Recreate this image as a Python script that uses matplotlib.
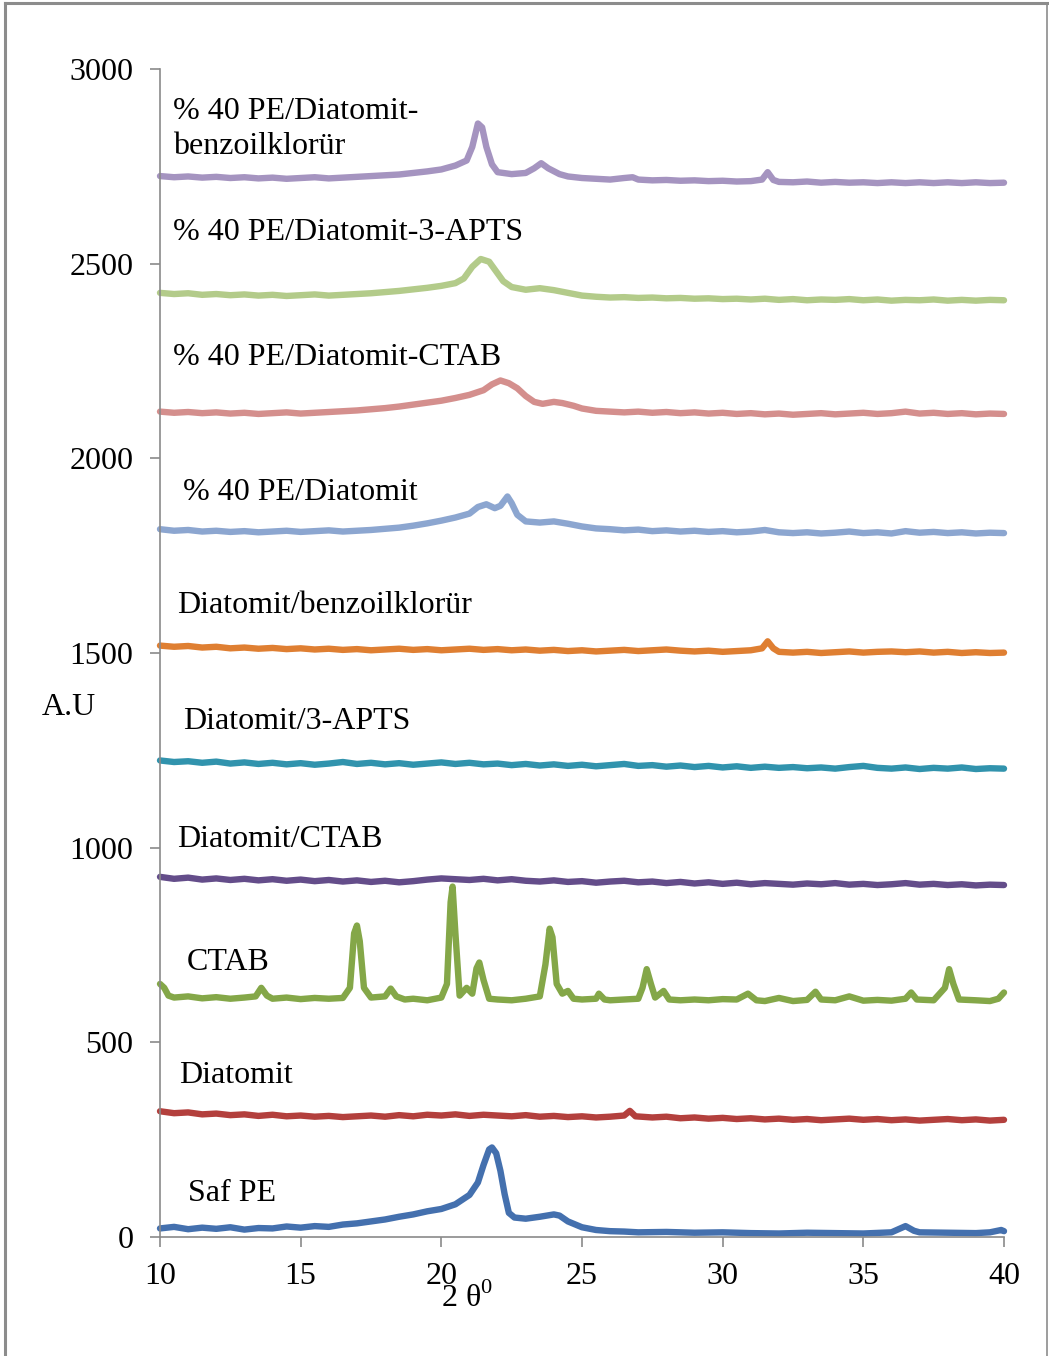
import matplotlib
matplotlib.use("Agg")
import matplotlib.pyplot as plt
from matplotlib.lines import Line2D

plt.rcParams['font.family'] = ['Liberation Serif', 'DejaVu Serif']
plt.rcParams['mathtext.fontset'] = 'custom'
plt.rcParams['mathtext.rm'] = 'Liberation Serif'

# ---------------- data ----------------
G = [10, 10.5, 11, 11.5, 12, 12.5, 13, 13.5, 14, 14.5, 15, 15.5, 16, 16.5, 17, 17.5,
     18, 18.5, 19, 19.5, 20, 20.5, 21, 21.5, 22, 22.5, 23, 23.5, 24, 24.5, 25, 25.5,
     26, 26.5, 27, 27.5, 28, 28.5, 29, 29.5, 30, 30.5, 31, 31.5, 32, 32.5, 33, 33.5,
     34, 34.5, 35, 35.5, 36, 36.5, 37, 37.5, 38, 38.5, 39, 39.5, 40]

saf_pe_x = [10, 10.5, 11, 11.5, 12, 12.5, 13, 13.5, 14, 14.5, 15, 15.5, 16, 16.5, 17, 17.5,
            18, 18.5, 19, 19.5, 20, 20.5, 21, 21.3, 21.5, 21.7, 21.8, 21.95, 22.1, 22.25,
            22.4, 22.6, 23, 23.5, 24, 24.2, 24.5, 25, 25.5, 26, 26.5, 27, 28, 29, 30, 31,
            32, 33, 34, 35, 36, 36.5, 36.8, 37, 38, 39, 39.5, 39.9, 40]
saf_pe_y = [22, 26, 20, 24, 21, 25, 19, 23, 22, 27, 24, 28, 26, 32, 35, 40,
            45, 52, 58, 66, 72, 84, 108, 140, 185, 225, 230, 215, 170, 110,
            62, 50, 47, 52, 58, 55, 40, 25, 18, 15, 14, 12, 13, 11, 12, 10,
            9, 11, 10, 9, 12, 28, 16, 12, 11, 10, 12, 18, 15]

diatomit_x = G[:34] + [26.7, 26.9] + G[35:]
diatomit_y = [323, 318, 320, 315, 317, 313, 315, 311, 314, 310, 312, 309, 311, 308, 310, 312,
              309, 313, 310, 314, 312, 315, 311, 314, 312, 310, 313, 309, 311, 308, 310, 307,
              309, 312, 324, 310, 307, 309, 305, 307, 304, 306, 303, 305, 302, 304, 301, 303,
              300, 302, 304, 301, 303, 300, 302, 299, 301, 303, 300, 302, 299, 301]

ctab_x = [10, 10.15, 10.3, 10.5, 11, 11.5, 12, 12.5, 13, 13.4, 13.6, 13.8, 14, 14.5, 15, 15.5,
          16, 16.5, 16.75, 16.9, 17.0, 17.1, 17.25, 17.5, 18, 18.2, 18.4, 18.7, 19, 19.5,
          20, 20.2, 20.33, 20.4, 20.5, 20.65, 20.9, 21.1, 21.25, 21.35, 21.5, 21.7, 22, 22.5,
          23, 23.5, 23.7, 23.85, 23.95, 24.1, 24.3, 24.5, 24.7, 25, 25.5, 25.6, 25.8, 26,
          26.5, 27, 27.15, 27.3, 27.45, 27.6, 27.9, 28.1, 28.5, 29, 29.5, 30, 30.5, 30.9,
          31.2, 31.5, 32, 32.5, 33, 33.3, 33.5, 34, 34.5, 35, 35.5, 36, 36.5, 36.7, 36.9,
          37.5, 37.9, 38.05, 38.2, 38.4, 39, 39.5, 39.8, 40]
ctab_y = [650, 640, 620, 615, 618, 613, 616, 612, 615, 618, 640, 620, 612, 615, 611, 614,
          612, 614, 640, 780, 800, 760, 640, 615, 618, 638, 618, 610, 612, 608,
          615, 650, 860, 900, 780, 620, 640, 625, 690, 705, 660, 612, 610, 608,
          612, 618, 700, 792, 770, 650, 625, 632, 612, 610, 612, 625, 610, 608,
          610, 612, 640, 688, 650, 615, 632, 610, 608, 610, 608, 611, 610, 625,
          608, 606, 614, 606, 609, 630, 610, 608, 618, 607, 609, 607, 612, 628, 610,
          608, 640, 688, 650, 610, 608, 606, 612, 628]

d_ctab_y = [925, 920, 923, 918, 921, 917, 920, 916, 919, 915, 918, 914, 917, 913, 916, 912,
            915, 911, 914, 918, 921, 919, 917, 920, 916, 919, 915, 913, 916, 912, 914, 910,
            913, 915, 911, 913, 909, 912, 908, 911, 907, 910, 906, 909, 907, 905, 908, 906,
            909, 905, 907, 904, 906, 909, 905, 907, 904, 906, 903, 905, 904]

d_apts_y = [1224, 1220, 1222, 1218, 1221, 1216, 1219, 1215, 1218, 1214, 1217, 1213, 1216, 1220,
            1215, 1218, 1214, 1217, 1213, 1216, 1219, 1215, 1218, 1214, 1216, 1212, 1215, 1211,
            1214, 1210, 1213, 1209, 1212, 1215, 1210, 1212, 1208, 1211, 1207, 1210, 1206, 1209,
            1205, 1208, 1205, 1207, 1204, 1206, 1203, 1207, 1210, 1205, 1203, 1206, 1202, 1205,
            1203, 1206, 1202, 1204, 1203]

d_benz_x = G[:43] + [31.4, 31.6, 31.8] + G[44:]
d_benz_y = [1519, 1516, 1518, 1514, 1516, 1512, 1514, 1511, 1513, 1510, 1512, 1509, 1511, 1508,
            1510, 1507, 1509, 1511, 1508, 1510, 1507, 1509, 1511, 1508, 1510, 1507, 1509, 1506,
            1508, 1505, 1507, 1504, 1506, 1508, 1505, 1507, 1509, 1506, 1504, 1506, 1503, 1505,
            1507, 1512, 1530, 1512, 1503, 1501, 1503, 1500, 1502, 1504, 1501, 1503, 1504, 1502,
            1504, 1501, 1503, 1500, 1502, 1500, 1501]

pe_d_x = [10, 10.5, 11, 11.5, 12, 12.5, 13, 13.5, 14, 14.5, 15, 15.5, 16, 16.5, 17, 17.5,
          18, 18.5, 19, 19.5, 20, 20.5, 21, 21.3, 21.6, 21.9, 22.1, 22.35, 22.5, 22.7, 23,
          23.5, 24, 24.5, 25, 25.5, 26, 26.5, 27, 27.5, 28, 28.5, 29, 29.5, 30, 30.5, 31,
          31.5, 32, 32.5, 33, 33.5, 34, 34.5, 35, 35.5, 36, 36.5, 37, 37.5, 38, 38.5, 39,
          39.5, 40]
pe_d_y = [1818, 1814, 1816, 1812, 1814, 1811, 1813, 1810, 1812, 1814, 1811, 1813, 1815, 1812,
          1814, 1816, 1819, 1822, 1827, 1833, 1840, 1848, 1858, 1875, 1882, 1872, 1878, 1902,
          1885, 1855, 1838, 1835, 1838, 1832, 1825, 1820, 1818, 1815, 1817, 1813, 1815, 1812,
          1814, 1811, 1813, 1810, 1812, 1816, 1810, 1808, 1810, 1807, 1809, 1812, 1808, 1810,
          1807, 1813, 1809, 1811, 1808, 1810, 1807, 1809, 1808]

pe_ctab_x = [10, 10.5, 11, 11.5, 12, 12.5, 13, 13.5, 14, 14.5, 15, 15.5, 16, 16.5, 17, 17.5,
             18, 18.5, 19, 19.5, 20, 20.5, 21, 21.5, 21.8, 22.1, 22.4, 22.7, 23, 23.3, 23.6,
             24, 24.3, 24.7, 25, 25.5, 26, 26.5, 27, 27.5, 28, 28.5, 29, 29.5, 30, 30.5, 31,
             31.5, 32, 32.5, 33, 33.5, 34, 34.5, 35, 35.5, 36, 36.5, 37, 37.5, 38, 38.5, 39,
             39.5, 40]
pe_ctab_y = [2120, 2117, 2119, 2116, 2118, 2115, 2117, 2114, 2116, 2118, 2115, 2117, 2119, 2121,
             2123, 2126, 2129, 2133, 2138, 2143, 2148, 2155, 2163, 2175, 2190, 2200, 2193, 2180,
             2160, 2145, 2140, 2145, 2142, 2135, 2128, 2122, 2120, 2118, 2120, 2117, 2119, 2116,
             2118, 2115, 2117, 2114, 2116, 2113, 2115, 2112, 2114, 2116, 2113, 2115, 2117, 2114,
             2116, 2120, 2115, 2117, 2114, 2116, 2113, 2115, 2114]

pe_apts_x = [10, 10.5, 11, 11.5, 12, 12.5, 13, 13.5, 14, 14.5, 15, 15.5, 16, 16.5, 17, 17.5,
             18, 18.5, 19, 19.5, 20, 20.5, 20.8, 21.1, 21.4, 21.7, 21.9, 22.2, 22.5, 23, 23.5,
             24, 24.5, 25, 25.5, 26, 26.5, 27, 27.5, 28, 28.5, 29, 29.5, 30, 30.5, 31, 31.5,
             32, 32.5, 33, 33.5, 34, 34.5, 35, 35.5, 36, 36.5, 37, 37.5, 38, 38.5, 39, 39.5, 40]
pe_apts_y = [2425, 2422, 2424, 2420, 2422, 2419, 2421, 2418, 2420, 2417, 2419, 2421, 2418, 2420,
             2422, 2424, 2427, 2430, 2434, 2438, 2443, 2450, 2462, 2492, 2512, 2505, 2485, 2455,
             2440, 2433, 2437, 2432, 2425, 2418, 2415, 2413, 2414, 2412, 2413, 2411, 2412, 2410,
             2411, 2409, 2410, 2408, 2410, 2407, 2409, 2406, 2408, 2407, 2409, 2406, 2408, 2405,
             2407, 2406, 2408, 2405, 2407, 2405, 2407, 2406]

pe_benz_x = [10, 10.5, 11, 11.5, 12, 12.5, 13, 13.5, 14, 14.5, 15, 15.5, 16, 16.5, 17, 17.5,
             18, 18.5, 19, 19.5, 20, 20.5, 20.9, 21.1, 21.3, 21.45, 21.6, 21.8, 22, 22.5, 23,
             23.3, 23.55, 23.8, 24.2, 24.5, 25, 25.5, 26, 26.5, 26.8, 27, 27.5, 28, 28.5, 29,
             29.5, 30, 30.5, 31, 31.4, 31.6, 31.8, 32, 32.5, 33, 33.5, 34, 34.5, 35, 35.5, 36,
             36.5, 37, 37.5, 38, 38.5, 39, 39.5, 40]
pe_benz_y = [2725, 2722, 2724, 2721, 2723, 2720, 2722, 2719, 2721, 2718, 2720, 2722, 2719, 2721,
             2723, 2725, 2727, 2729, 2733, 2737, 2742, 2752, 2765, 2800, 2860, 2850, 2800, 2755,
             2735, 2730, 2733, 2745, 2758, 2745, 2730, 2724, 2720, 2718, 2716, 2720, 2722, 2716,
             2714, 2715, 2713, 2714, 2712, 2713, 2711, 2712, 2716, 2735, 2715, 2710, 2709, 2711,
             2708, 2710, 2708, 2709, 2707, 2709, 2707, 2709, 2707, 2709, 2707, 2709, 2707, 2708]

series = [
    (saf_pe_x, saf_pe_y, '#4470AE'),
    (diatomit_x, diatomit_y, '#B3403D'),
    (ctab_x, ctab_y, '#84A748'),
    (G, d_ctab_y, '#644D8A'),
    (G, d_apts_y, '#3193AD'),
    (d_benz_x, d_benz_y, '#DF7F32'),
    (pe_d_x, pe_d_y, '#8CA6D0'),
    (pe_ctab_x, pe_ctab_y, '#D48F8D'),
    (pe_apts_x, pe_apts_y, '#B3CB8A'),
    (pe_benz_x, pe_benz_y, '#A594C0'),
]

labels = ["Saf PE", "Diatomit", "CTAB", "Diatomit/CTAB", "Diatomit/3-APTS",
          "Diatomit/benzoilklorür", "% 40 PE/Diatomit", "% 40 PE/Diatomit-CTAB",
          "% 40 PE/Diatomit-3-APTS", "% 40 PE/Diatomit-\nbenzoilklorür"]
label_x = [11.0, 10.68, 10.96, 10.6, 10.82, 10.6, 10.82, 10.46, 10.46, 10.46]
label_y = [113, 416, 704, 1020, 1323, 1623, 1911, 2258, 2579, 2846]

xticks = [10, 15, 20, 25, 30, 35, 40]
yticks = [0, 500, 1000, 1500, 2000, 2500, 3000]

# ---------------- figure ----------------
W, H = 1049, 1356
FS = 23
fig = plt.figure(figsize=(W / 100, H / 100), dpi=100)
ax = fig.add_axes([160 / W, 1 - 1237 / H, (1004 - 160) / W, (1237 - 69) / H])

for x, y, c in series:
    ax.plot(x, y, color=c, lw=4.6, solid_joinstyle='round', solid_capstyle='round',
            clip_on=False)

for t, lx, ly in zip(labels, label_x, label_y):
    ax.text(lx, ly, t, fontsize=FS, va='center', ha='left', linespacing=1.25)

ax.set_xlim(10, 40)
ax.set_ylim(0, 3000)
ax.set_xticks(xticks)
ax.set_yticks(yticks)
ax.set_xticklabels([str(v) for v in xticks])
ax.set_yticklabels([str(v) for v in yticks])
for s in ['top', 'right']:
    ax.spines[s].set_visible(False)
for s in ['left', 'bottom']:
    ax.spines[s].set_color('#8a8a8a')
    ax.spines[s].set_linewidth(1.2)
ax.tick_params(axis='both', direction='out', length=7, width=1.2, color='#8a8a8a',
               labelsize=FS)
ax.tick_params(axis='y', pad=12)
ax.tick_params(axis='x', pad=11)

fig.text(42 / W, 1 - 707 / H, "A.U", fontsize=FS, va='center', ha='left')
fig.text(467 / W, 1 - 1298 / H, r"2 θ$^\mathrm{0}$", fontsize=FS, va='center', ha='center')

# frame around the picture
bc = '#8c8c8c'
fig.add_artist(Line2D([5 / W, 1047 / W], [1 - 3 / H, 1 - 3 / H], color=bc, lw=2.2,
                      transform=fig.transFigure))
fig.add_artist(Line2D([5 / W, 5 / W], [0, 1 - 3 / H], color=bc, lw=2.2,
                      transform=fig.transFigure))
fig.add_artist(Line2D([1047 / W, 1047 / W], [0, 1 - 3 / H], color=bc, lw=1.2,
                      transform=fig.transFigure))

fig.savefig("out.png", dpi=100)
